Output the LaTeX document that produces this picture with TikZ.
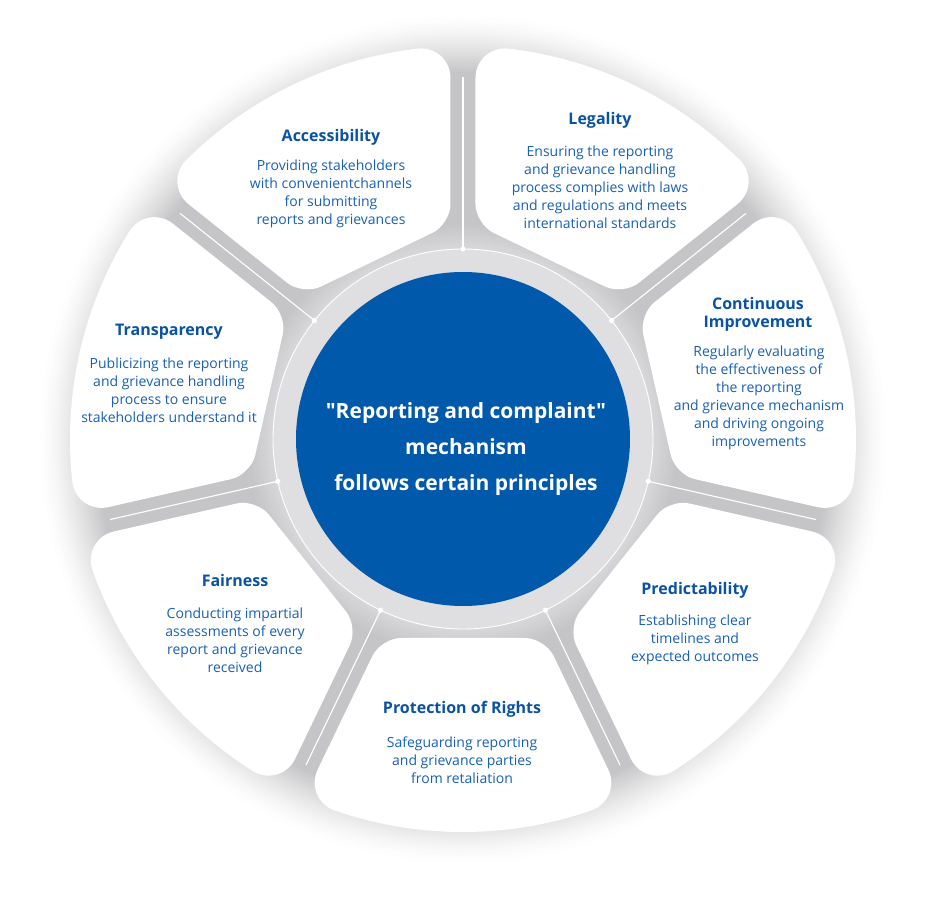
\documentclass[tikz,border=0pt]{standalone}
\usepackage{fontspec}
\setmainfont{Open Sans}
\newfontfamily\ctrfont{Open Sans}
\usetikzlibrary{calc}
\definecolor{mainblue}{RGB}{1,89,171}
\definecolor{headblue}{RGB}{10,82,162}
\definecolor{bodyblue}{RGB}{24,96,180}
\definecolor{gapgray}{RGB}{197,197,199}
\definecolor{lightband}{RGB}{216,216,218}
\definecolor{bandgray}{RGB}{223,223,225}
\tikzset{
  head/.style={font=\bfseries\fontsize{16}{18}\selectfont, text=headblue, align=center, inner sep=0pt},
  body/.style={font=\fontsize{14}{18}\selectfont, text=bodyblue, align=center, inner sep=0pt},
  petal/.style={fill=white},
  spoke/.style={draw=white, line width=1.1pt},
  centertext/.style={font=\ctrfont\bfseries\fontsize{21}{36}\selectfont, text=white, align=center, inner sep=0pt},
}
\begin{document}
\begin{tikzpicture}
\useasboundingbox (-463pt,-461pt) rectangle (477pt,439pt);
\fill[white] (-463pt,-461pt) rectangle (477pt,439pt);
% soft grey halo behind the petals
\foreach \r in {425,423,...,367}{
  \pgfmathsetmacro\pp{100*((425-\r)/58)^1.4}
  \fill[gapgray!\pp!white] (0,0) circle (\r pt);
}
\foreach \r in {216,215,...,190}{
  \pgfmathsetmacro\qq{100*(216-\r)/26}
  \fill[lightband!\qq!gapgray] (0,0) circle (\r pt);
}
\def\Rout{393}\def\Hin{199}\def\G{12.5}\def\Do{32}\def\Di{20}
\pgfmathsetmacro\tout{\Rout*sqrt(1-(\G/\Rout)*(\G/\Rout))}
\pgfmathsetmacro\tin{(\Hin-\G*sin(180/7))/cos(180/7)}
\pgfmathsetmacro\da{asin(\G/\Rout)+\Do/\Rout*180/pi}
\pgfmathsetmacro\toutD{\tout-\Do}
\pgfmathsetmacro\tinD{\tin+\Di}
\foreach \k in {0,...,6}{
  \pgfmathsetmacro\ta{90+\k*360/7}
  \pgfmathsetmacro\tb{\ta+360/7}
  \pgfmathsetmacro\tm{\ta+180/7}
  \pgfmathsetmacro\sa{\ta+\da}
  \pgfmathsetmacro\sb{\tb-\da}
  \coordinate (C2) at ($(\ta:\tout pt)+(\ta+90:\G pt)$);
  \coordinate (A2) at ($(\ta:\toutD pt)+(\ta+90:\G pt)$);
  \coordinate (C1) at ($(\ta:\tin pt)+(\ta+90:\G pt)$);
  \coordinate (A1) at ($(\ta:\tinD pt)+(\ta+90:\G pt)$);
  \coordinate (E1) at ($(C1)+(\tm+90:\Di pt)$);
  \coordinate (C3) at ($(\tb:\tout pt)+(\tb-90:\G pt)$);
  \coordinate (A3) at ($(\tb:\toutD pt)+(\tb-90:\G pt)$);
  \coordinate (C4) at ($(\tb:\tin pt)+(\tb-90:\G pt)$);
  \coordinate (A4) at ($(\tb:\tinD pt)+(\tb-90:\G pt)$);
  \coordinate (E4) at ($(C4)+(\tm-90:\Di pt)$);
  \coordinate (B2) at (\sa:\Rout pt);
  \coordinate (B3) at (\sb:\Rout pt);
  \fill[petal] (B2) arc[start angle=\sa, end angle=\sb, radius=\Rout pt]
    .. controls ($(B3)!0.55!(C3)$) and ($(A3)!0.55!(C3)$) .. (A3)
    -- (A4)
    .. controls ($(A4)!0.55!(C4)$) and ($(E4)!0.55!(C4)$) .. (E4)
    -- (E1)
    .. controls ($(E1)!0.55!(C1)$) and ($(A1)!0.55!(C1)$) .. (A1)
    -- (A2)
    .. controls ($(A2)!0.55!(C2)$) and ($(B2)!0.55!(C2)$) .. (B2) -- cycle;
}
\fill[bandgray] (0,0) circle (190pt);
\draw[white, line width=0.9pt] (0,0) circle (190pt);
\foreach \k in {0,...,6}{
  \pgfmathsetmacro\ta{90+\k*360/7}
  \coordinate (s\k) at (\ta:190pt);
  \coordinate (e\k) at (\ta:362pt);
  \draw[spoke] (s\k) -- (e\k);
  \fill[white] (s\k) circle (2.6pt);
}
\node[circle, fill=mainblue, minimum size=334pt, inner sep=0pt] (core) at (0,0) {};
\node[centertext] (ctr) at (3pt,-10pt) {"Reporting and complaint"\\mechanism\\follows certain principles};

\node[head] (h1) at (-132pt,302pt) {Accessibility};
\node[body] (b1) at (-132pt,245pt) {Providing stakeholders\\with convenientchannels\\for submitting\\reports and grievances};

\node[head] (h2) at (137pt,319pt) {Legality};
\node[body] (b2) at (137pt,252pt) {Ensuring the reporting\\and grievance handling\\process complies with laws\\and regulations and meets\\international standards};

\node[head] (h3) at (-294pt,107pt) {Transparency};
\node[body] (b3) at (-294pt,49pt) {Publicizing the reporting\\and grievance handling\\process to ensure\\stakeholders understand it};

\node[head] (h4) at (295pt,125pt) {Continuous\\Improvement};
\node[body] (b4) at (296pt,41pt) {Regularly evaluating\\the effectiveness of\\the reporting\\and grievance mechanism\\and driving ongoing\\improvements};

\node[head] (h5) at (-228pt,-141pt) {Fairness};
\node[body] (b5) at (-228pt,-201pt) {Conducting impartial\\assessments of every\\report and grievance\\received};

\node[head] (h6) at (232pt,-151pt) {Predictability};
\node[body] (b6) at (232pt,-201pt) {Establishing clear\\timelines and\\expected outcomes};

\node[head] (h7) at (-1pt,-270pt) {Protection of Rights};
\node[body] (b7) at (-1pt,-321pt) {Safeguarding reporting\\and grievance parties\\from retaliation};
\end{tikzpicture}
\end{document}
